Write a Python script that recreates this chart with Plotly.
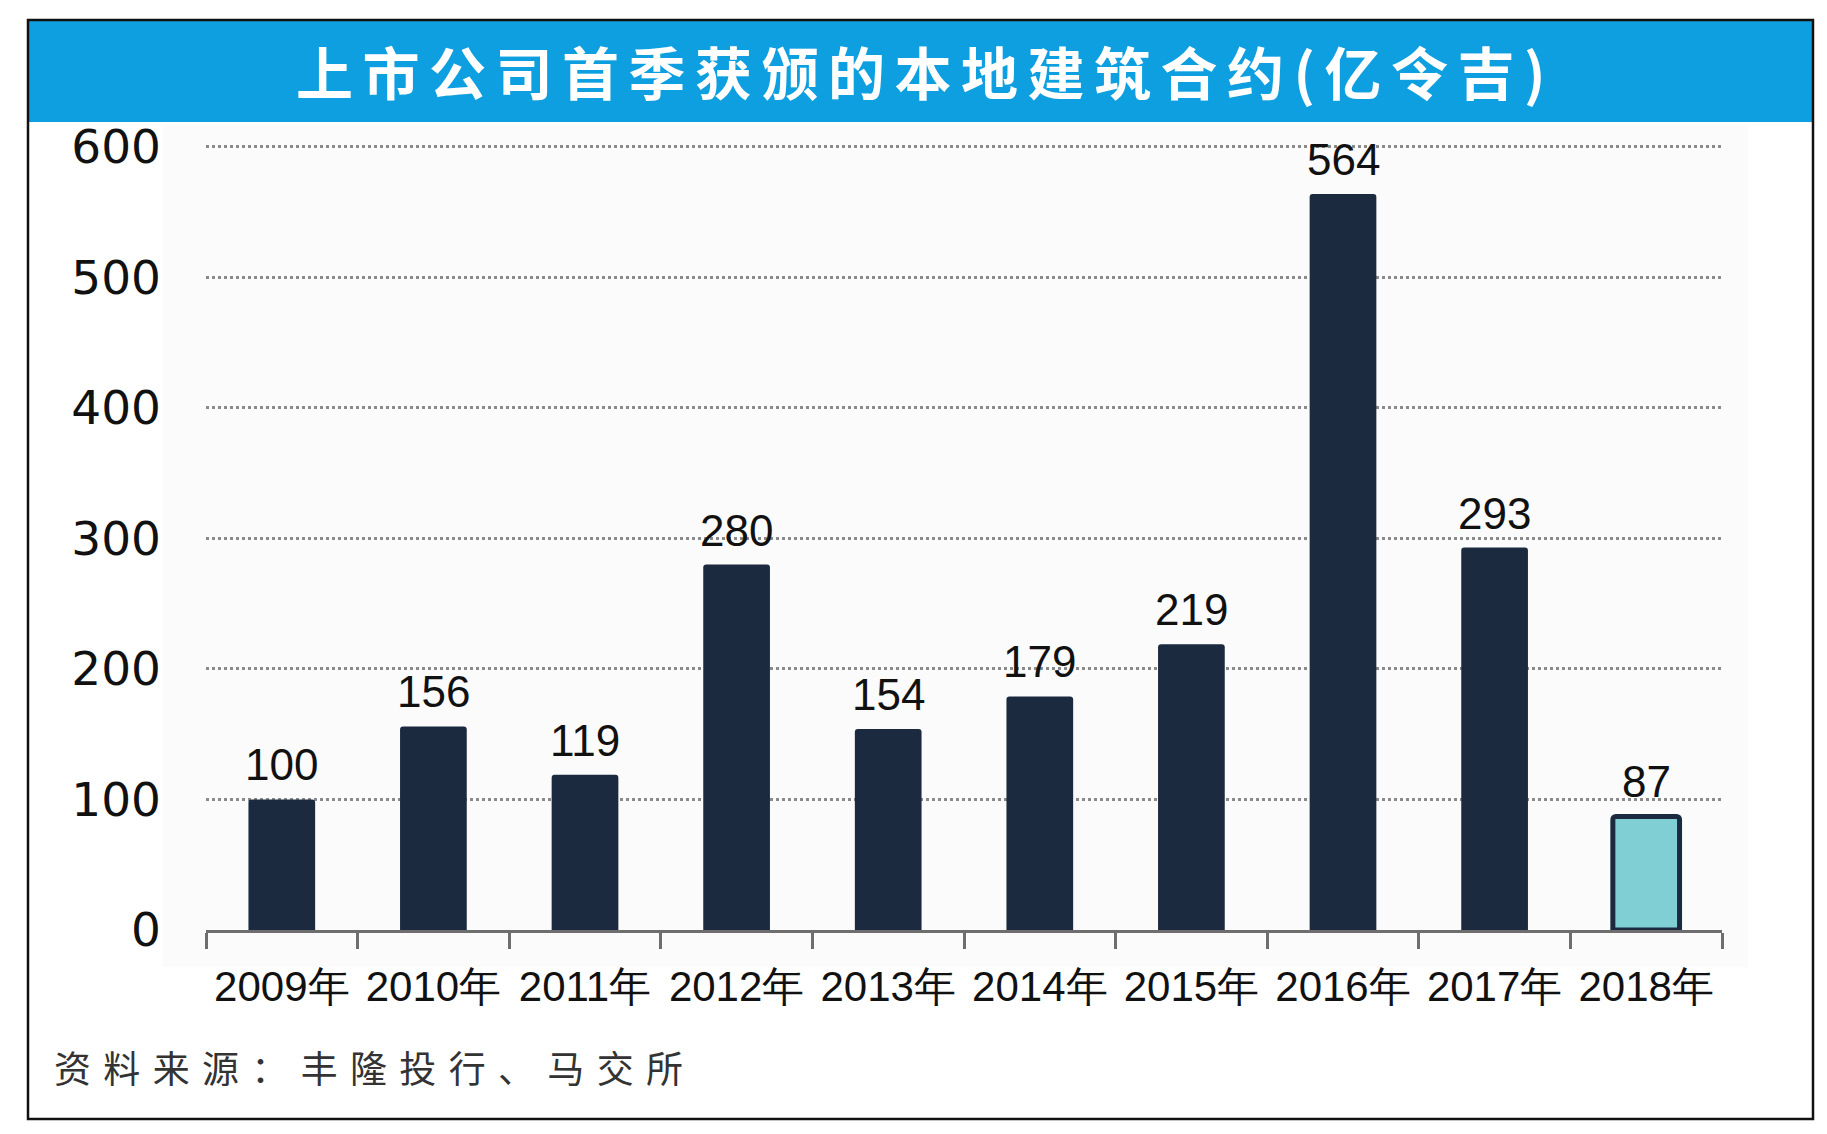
import plotly.graph_objects as go

years = ["2009年", "2010年", "2011年", "2012年", "2013年", "2014年", "2015年", "2016年", "2017年", "2018年"]
values = [100, 156, 119, 280, 154, 179, 219, 564, 293, 87]
y_ticks = [0, 100, 200, 300, 400, 500, 600]
title_text = "上市公司首季获颁的本地建筑合约(亿令吉)"
source_text = "资料来源：丰隆投行、马交所"

OFF = 8  # browser body margin
W, H = 1827 - 2 * OFF, 1134 - 2 * OFF
# plot area in page pixels -> figure pixels
L, R, T, B = 206 - OFF, 1722 - OFF, 143 - OFF, 930 - OFF

def px2x(px):
    return (px - OFF - L) / (R - L)

def py2y(py):
    return (B - (py - OFF)) / (B - T)

NAVY = "#1c2a40"
TEAL = "#80cfd5"
colors = [NAVY] * (len(values) - 1) + [TEAL]
line_w = [0] * (len(values) - 1) + [5]

fig = go.Figure()
fig.add_trace(go.Bar(
    x=years, y=values,
    marker=dict(color=colors, line=dict(color=NAVY, width=line_w), cornerradius=3),
    width=0.44,
    hoverinfo="skip",
))

for yr, v in zip(years, values):
    fig.add_annotation(x=yr, y=v, text=str(v), showarrow=False, yanchor="bottom", yshift=8,
                       font=dict(family="Liberation Sans, Arial", size=44, color="#111"))

spaced = lambda s, sep: sep.join(s)

shapes = [
    dict(type="rect", xref="paper", yref="paper", x0=px2x(163), x1=px2x(1748), y0=py2y(967), y1=py2y(125),
         fillcolor="#fbfbfb", line=dict(width=0), layer="below"),
    dict(type="rect", xref="paper", yref="paper", x0=px2x(28), x1=px2x(1813), y0=py2y(122), y1=py2y(20),
         fillcolor="#0e9fe0", line=dict(width=0), layer="below"),
    dict(type="rect", xref="paper", yref="paper", x0=px2x(28), x1=px2x(1813), y0=py2y(1119), y1=py2y(20),
         fillcolor="rgba(0,0,0,0)", line=dict(color="#111", width=2.5), layer="above"),
]

fig.add_annotation(xref="paper", yref="paper", x=px2x(921), y=py2y(70),
                   text="<b>" + spaced(title_text, "\u2006") + "</b>",
                   showarrow=False, xanchor="center", yanchor="middle",
                   font=dict(family="Noto Sans CJK SC", size=57, color="white"))
fig.add_annotation(xref="paper", yref="paper", x=px2x(52), y=py2y(1067), text=spaced(source_text, "\u2004"),
                   showarrow=False, xanchor="left", yanchor="middle",
                   font=dict(family="Noto Sans CJK SC", size=37, color="#333"))

fig.update_layout(
    width=W, height=H,
    margin=dict(l=L, r=W - R, t=T, b=H - B),
    paper_bgcolor="white", plot_bgcolor="rgba(0,0,0,0)",
    showlegend=False,
    shapes=shapes,
)
fig.update_xaxes(
    type="category", range=[-0.5, len(years) - 0.5],
    showline=True, linecolor="#6e6e6e", linewidth=3,
    ticks="outside", tickson="boundaries", ticklen=16, tickwidth=3, tickcolor="#6e6e6e",
    ticklabelstandoff=18,
    tickfont=dict(family="Liberation Sans, Arial", size=42, color="#111"),
    showgrid=False,
)
fig.update_yaxes(
    range=[0, 603], tickvals=y_ticks,
    showgrid=True, gridcolor="#8a8a8a", gridwidth=2.5, griddash="dot",
    zeroline=False, showline=False, ticks="",
    ticklabelstandoff=44,
    tickfont=dict(family="DejaVu Sans", size=47, color="#111"),
)

fig.write_html("out.html")
